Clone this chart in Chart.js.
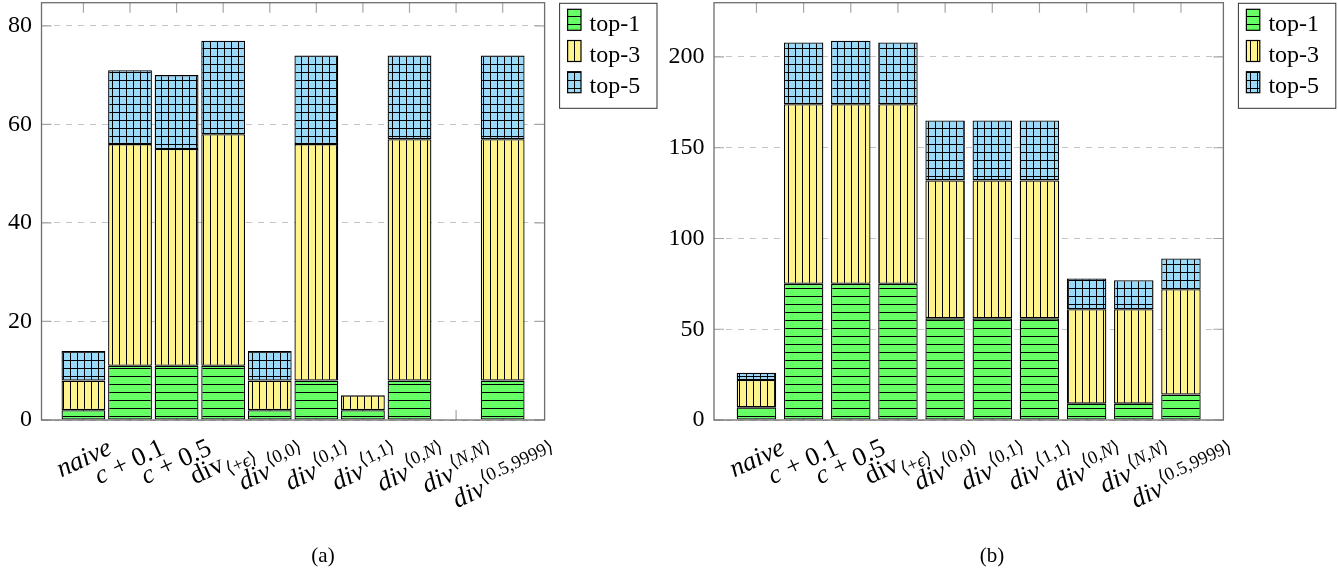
<!DOCTYPE html>
<html>
<head>
<meta charset="utf-8">
<script src="https://cdn.jsdelivr.net/npm/chart.js@4.4.1/dist/chart.umd.min.js"></script>
<style>
  body { margin: 0; background: #fff; width: 1338px; height: 572px; position: relative; overflow: hidden; font-family: "Liberation Serif", serif; }
  canvas { position: absolute; top: 0; }
  .cap { position: absolute; top: 543px; font-size: 21px; transform: translateX(-50%); }
</style>
</head>
<body>
<canvas id="chartA" width="669" height="572" style="left:0"></canvas>
<canvas id="chartB" width="669" height="572" style="left:669px"></canvas>
<div class="cap" style="left:323px">(a)</div>
<div class="cap" style="left:992px">(b)</div>
<script>
// categories, written with a tiny tex-like markup: $..$ italic, ^{..} sup, _{..} sub
const categories = [
  '$naive$', '$c$ + 0.1', '$c$ + 0.5', 'div_{⟨+$ϵ$⟩}', '$div$^{⟨0,0⟩}',
  '$div$^{⟨0,1⟩}', '$div$^{⟨1,1⟩}', '$div$^{⟨0,$N$⟩}', '$div$^{⟨$N$,$N$⟩}', '$div$^{⟨0.5,9999⟩}'
];
const seriesNames = ['top-1', 'top-3', 'top-5'];

// (a)
const a_top1 = [2, 11, 11, 11, 2, 8, 2, 8, 0, 8];
const a_top3 = [6, 45, 44, 47, 6, 48, 3, 49, 0, 49];
const a_top5 = [6, 15, 15, 19, 6, 18, 0, 17, 0, 17];
const a_yTicks = [0, 20, 40, 60, 80];

// (b)
const b_top1 = [7, 75, 75, 75, 56, 56, 56, 9, 9, 14];
const b_top3 = [15, 99, 99, 99, 76, 76, 76, 52, 52, 58];
const b_top5 = [4, 34, 35, 34, 33, 33, 33, 17, 16, 17];
const b_yTicks = [0, 50, 100, 150, 200];

// hatch patterns like pgfplots
function hatch(bg, kind) {
  const c = document.createElement('canvas');
  c.width = kind === 'h' ? 8 : 7;
  c.height = 8;
  const g = c.getContext('2d');
  g.fillStyle = bg;
  g.fillRect(0, 0, c.width, c.height);
  g.fillStyle = '#000';
  if (kind === 'h' || kind === 'grid') g.fillRect(0, 0, c.width, 1);
  if (kind === 'v' || kind === 'grid') g.fillRect(0, 0, 1, c.height);
  return g.createPattern(c, 'repeat');
}
const fills = [hatch('#66ff66', 'h'), hatch('#fff48c', 'v'), hatch('#9ad9f7', 'grid')];

function parseLabel(s) {
  const segs = [];
  let italic = false, script = '', i = 0;
  const push = ch => {
    const last = segs[segs.length - 1];
    if (last && last.italic === italic && last.script === script) last.text += ch;
    else segs.push({ text: ch, italic, script });
  };
  while (i < s.length) {
    const ch = s[i];
    if (ch === '$') { italic = !italic; i++; continue; }
    if ((ch === '^' || ch === '_') && s[i + 1] === '{') { script = ch === '^' ? 'sup' : 'sub'; i += 2; continue; }
    if (ch === '}' && script) { script = ''; i++; continue; }
    push(ch);
    i++;
  }
  return segs;
}

function drawTickLabel(ctx, text, cx, top) {
  const ang = 25 * Math.PI / 180;
  const segs = parseLabel(text);
  let x = 0;
  const pts = [];
  segs.forEach(sg => {
    const size = sg.script ? 18.5 : 26.5;
    sg.font = (sg.italic ? 'italic ' : '') + size + 'px "Liberation Serif", "DejaVu Serif", serif';
    sg.dy = sg.script === 'sup' ? -11 : sg.script === 'sub' ? 6 : 0;
    ctx.font = sg.font;
    const m = ctx.measureText(sg.text);
    sg.x = x;
    const asc = m.actualBoundingBoxAscent, desc = m.actualBoundingBoxDescent;
    pts.push([x, sg.dy - asc], [x + m.width, sg.dy - asc], [x, sg.dy + desc], [x + m.width, sg.dy + desc]);
    x += m.width + (sg.script ? 0 : 1);
  });
  // a subscript pushes the whole label further down, like in the tex output
  if (segs.some(sg => sg.script === 'sub')) top += 11;
  const cs = Math.cos(ang), sn = Math.sin(ang);
  let minX = Infinity, maxX = -Infinity, minY = Infinity;
  pts.forEach(([px, py]) => {
    const rx = px * cs + py * sn, ry = -px * sn + py * cs;
    minX = Math.min(minX, rx); maxX = Math.max(maxX, rx); minY = Math.min(minY, ry);
  });
  ctx.save();
  ctx.translate(cx - (minX + maxX) / 2, top - minY);
  ctx.rotate(-ang);
  ctx.fillStyle = '#000';
  ctx.textBaseline = 'alphabetic';
  ctx.textAlign = 'left';
  segs.forEach(sg => { ctx.font = sg.font; ctx.fillText(sg.text, sg.x, sg.dy); });
  ctx.restore();
}

const pgfAxis = {
  id: 'pgfAxis',
  beforeDatasetsDraw(chart) {
    const { ctx, chartArea: a, scales: { x, y } } = chart;
    ctx.save();
    ctx.strokeStyle = '#a6a6a6';
    ctx.lineWidth = 1.2;
    ctx.beginPath();
    categories.forEach((c, i) => {
      const px = x.getPixelForValue(i);
      ctx.moveTo(px, a.top); ctx.lineTo(px, a.top + 10);
      ctx.moveTo(px, a.bottom); ctx.lineTo(px, a.bottom - 10);
    });
    y.ticks.forEach(t => {
      const py = y.getPixelForValue(t.value);
      ctx.moveTo(a.left, py); ctx.lineTo(a.left + 10, py);
      ctx.moveTo(a.right, py); ctx.lineTo(a.right - 10, py);
    });
    ctx.stroke();
    ctx.restore();
  },
  afterDatasetsDraw(chart) {
    const { ctx, chartArea: a } = chart;
    ctx.save();
    ctx.strokeStyle = '#6e6e6e';
    ctx.lineWidth = 1.3;
    ctx.strokeRect(a.left, a.top, a.right - a.left, a.bottom - a.top);
    ctx.restore();
  },
  afterDraw(chart) {
    const { ctx, chartArea: a, scales: { x } } = chart;
    categories.forEach((c, i) => drawTickLabel(ctx, c, x.getPixelForValue(i), 437));

    // legend box
    const lx = a.right + 15, ly = 3.3;
    ctx.save();
    ctx.fillStyle = '#fff';
    ctx.fillRect(lx, ly, 97.4, 105);
    ctx.strokeStyle = '#333';
    ctx.lineWidth = 1;
    ctx.strokeRect(lx, ly, 97.4, 105);
    chart.data.datasets.forEach((ds, i) => {
      const sy = ly + 6 + i * 31.2;
      ctx.fillStyle = ds.backgroundColor;
      ctx.fillRect(lx + 8, sy, 13.4, 21);
      ctx.strokeStyle = '#000';
      ctx.lineWidth = 1.2;
      ctx.strokeRect(lx + 8, sy, 13.4, 21);
      ctx.fillStyle = '#000';
      ctx.font = '24px "Liberation Serif"';
      ctx.textBaseline = 'alphabetic';
      ctx.fillText(ds.label, lx + 30, sy + 21.3);
    });
    ctx.restore();
  }
};

function makeChart(id, series, yTicks, yMax, plotLeft, plotRight, barPct) {
  const canvas = document.getElementById(id);
  return new Chart(canvas.getContext('2d'), {
    type: 'bar',
    data: {
      datasets: series.map((vals, k) => ({
        label: seriesNames[k],
        data: vals.map((v, i) => ({ x: i, y: v })),
        backgroundColor: fills[k],
        borderColor: '#000',
        borderWidth: 1.3,
        borderSkipped: false,
        barPercentage: barPct,
        categoryPercentage: 1
      }))
    },
    options: {
      responsive: false,
      animation: false,
      devicePixelRatio: 1,
      layout: { padding: { left: 0, right: canvas.width - plotRight, top: 2.7, bottom: 152 } },
      plugins: { legend: { display: false }, tooltip: { enabled: false } },
      scales: {
        x: {
          type: 'linear', min: -0.9, max: 9.9, stacked: true, display: false,
          offset: false, grid: { offset: false }
        },
        y: {
          stacked: true, min: 0, max: yMax,
          afterFit: s => { s.width = plotLeft; s.paddingTop = 0; s.paddingBottom = 0; },
          afterBuildTicks: s => { s.ticks = yTicks.map(v => ({ value: v })); },
          ticks: {
            color: '#000', padding: 9.5,
            font: { family: '"Liberation Serif"', size: 24 }
          },
          grid: { color: '#c4c4c4', lineWidth: 1, drawTicks: false },
          border: { display: false, dash: [6, 6] }
        }
      }
    },
    plugins: [pgfAxis]
  });
}

makeChart('chartA', [a_top1, a_top3, a_top5], a_yTicks, 84.7, 41.5, 544.6, 0.94);
makeChart('chartB', [b_top1, b_top3, b_top5], b_yTicks, 229.9, 45, 554.4, 0.93);
</script>
</body>
</html>
